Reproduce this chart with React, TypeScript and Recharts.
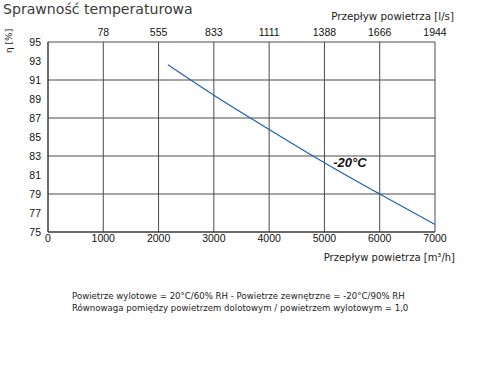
import React from 'react';
import {
  LineChart,
  Line,
  XAxis,
  YAxis,
  CartesianGrid,
  ReferenceDot,
} from 'recharts';

// air flow [m3/h] and efficiency [%]
const flow = [2170, 3000, 4000, 5000, 6000, 7000];
const eta = [92.6, 89.4, 85.8, 82.3, 79.0, 75.8];

const xTicks = [0, 1000, 2000, 3000, 4000, 5000, 6000, 7000];
const topTicks = [1000, 2000, 3000, 4000, 5000, 6000, 7000];
const topLabels = ['78', '555', '833', '1111', '1388', '1666', '1944'];
const yTicks = [75, 77, 79, 81, 83, 85, 87, 89, 91, 93, 95];

const data = flow.map((f, i) => ({ flow: f, eta: eta[i] }));

const tickFont = { fontFamily: '"Liberation Sans", Arial, sans-serif', fontSize: 10.5, fill: '#111' };
const labelFont: React.CSSProperties = { fontFamily: '"DejaVu Sans", Verdana, sans-serif', color: '#222' };

export default function App() {
  return (
    <div style={{ position: 'absolute', left: 0, top: 0, width: 480, height: 390, background: '#fff' }}>
      <div style={{ ...labelFont, position: 'absolute', left: 3, top: 1, fontSize: 14.1, color: '#3a3a3a' }}>
        Sprawność temperaturowa
      </div>
      <div style={{ ...labelFont, position: 'absolute', right: 26, top: 10, fontSize: 10.3 }}>
        Przepływ powietrza [l/s]
      </div>
      <div
        style={{
          ...labelFont,
          position: 'absolute',
          left: 4,
          top: 53,
          fontSize: 9,
          transform: 'rotate(-90deg)',
          transformOrigin: 'left top',
        }}
      >
        η [%]
      </div>

      <LineChart
        width={480}
        height={260}
        data={data}
        margin={{ top: 22, right: 45, bottom: 8, left: 10 }}
        style={{ position: 'absolute', left: 0, top: 0 }}
      >
        <CartesianGrid xAxisId="bottom" stroke="#4a4a4a" strokeWidth={1} />
        <XAxis
          xAxisId="bottom"
          dataKey="flow"
          type="number"
          domain={[0, 7000]}
          ticks={xTicks}
          height={20}
          tickSize={0}
          tickMargin={3}
          tick={tickFont}
          stroke="#333"
          allowDataOverflow
        />
        <XAxis
          xAxisId="top"
          orientation="top"
          dataKey="flow"
          type="number"
          domain={[0, 7000]}
          ticks={topTicks}
          tickFormatter={(v: number) => topLabels[topTicks.indexOf(v)] ?? ''}
          height={20}
          tickSize={0}
          tickMargin={6}
          tick={tickFont}
          axisLine={false}
        />
        <YAxis
          type="number"
          domain={[75, 95]}
          ticks={yTicks}
          width={38}
          tickSize={0}
          tickMargin={7}
          tick={tickFont}
          stroke="#333"
        />
        <Line
          xAxisId="bottom"
          dataKey="eta"
          type="monotone"
          stroke="#1f5fb4"
          strokeWidth={1.2}
          dot={false}
          isAnimationActive={false}
        />
        <ReferenceDot
          xAxisId="bottom"
          x={5460}
          y={82.3}
          r={0}
          fill="none"
          stroke="none"
          label={{
            value: '-20°C',
            position: 'center',
            fill: '#111',
            fontSize: 13,
            fontWeight: 'bold',
            fontStyle: 'italic',
            fontFamily: '"Liberation Sans", Arial, sans-serif',
          }}
        />
      </LineChart>

      <div style={{ ...labelFont, position: 'absolute', right: 25, top: 252, fontSize: 10 }}>
        Przepływ powietrza [m³/h]
      </div>
      <div style={{ ...labelFont, position: 'absolute', left: 72, top: 290, fontSize: 8.6, lineHeight: '12px' }}>
        Powietrze wylotowe = 20°C/60% RH - Powietrze zewnętrzne = -20°C/90% RH
        <br />
        Równowaga pomiędzy powietrzem dolotowym / powietrzem wylotowym = 1,0
      </div>
    </div>
  );
}
